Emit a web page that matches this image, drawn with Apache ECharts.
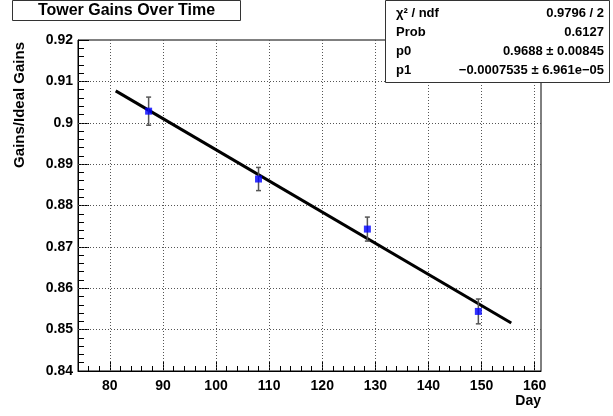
<!DOCTYPE html>
<html>
<head>
<meta charset="utf-8">
<script src="https://cdn.jsdelivr.net/npm/echarts@6/dist/echarts.min.js"></script>
<style>
html,body{margin:0;padding:0;background:#fff;}
#c{width:613px;height:416px;}
</style>
</head>
<body>
<div id="c"></div>
<script>
// ---- data ----
var days = [87.3, 108.0, 128.5, 149.4];
var gains = [0.9028, 0.8864, 0.8743, 0.8544];
var gainErrors = [0.0034, 0.0028, 0.0029, 0.0030];
var fitDays = [81.1, 155.6];
var fitGains = [0.9077, 0.8516];
var xMajorTicks = [80, 90, 100, 110, 120, 130, 140, 150, 160];
var xMinorTicks = [76, 78, 82, 84, 86, 88, 92, 94, 96, 98, 102, 104, 106, 108, 112, 114, 116, 118, 122, 124, 126, 128, 132, 134, 136, 138, 142, 144, 146, 148, 152, 154, 156, 158];
var yMajorTicks = [0.84, 0.85, 0.86, 0.87, 0.88, 0.89, 0.90, 0.91, 0.92];
var yMinorTicks = [0.842, 0.844, 0.846, 0.848, 0.852, 0.854, 0.856, 0.858, 0.862, 0.864, 0.866, 0.868, 0.872, 0.874, 0.876, 0.878, 0.882, 0.884, 0.886, 0.888, 0.892, 0.894, 0.896, 0.898, 0.902, 0.904, 0.906, 0.908, 0.912, 0.914, 0.916, 0.918];
var statsRows = [
  ["\u03c7\u00b2 / ndf", "0.9796 / 2"],
  ["Prob", "0.6127"],
  ["p0", "0.9688 \u00b1 0.00845"],
  ["p1", "\u22120.0007535 \u00b1 6.961e\u221205"]
];
var titleText = "Tower Gains Over Time";
var xTitle = "Day";
var yTitle = "Gains/Ideal Gains";

// ---- chart ----
var FONT = "'Liberation Sans', Arial, Helvetica, sans-serif";
var chart = echarts.init(document.getElementById('c'), null, {renderer: 'canvas'});
var G = {left: 78, right: 72, top: 40, bottom: 45};
var X0 = 74, X1 = 161.2, Y0 = 0.84, Y1 = 0.92;

function fmtY(v){ return String(+(+v).toFixed(3)); }

var pointData = days.map(function(d, i){ return [d, gains[i]]; });
var errData = days.map(function(d, i){ return [d, gains[i] - gainErrors[i], gains[i] + gainErrors[i]]; });
var fitData = fitDays.map(function(d, i){ return [d, fitGains[i]]; });

var gridLines = [];
xMajorTicks.forEach(function(v){ if (v > X0 && v < X1) gridLines.push({xAxis: v}); });
yMajorTicks.forEach(function(v){ if (v > Y0 && v < Y1) gridLines.push({yAxis: v}); });

var statsGraphics = [];
var SB = {x: 385, y: 0, w: 224, h: 82};
statsGraphics.push({type: 'rect', shape: {x: SB.x + 0.5, y: SB.y + 0.5, width: SB.w, height: SB.h},
  style: {fill: '#fff', stroke: '#333', lineWidth: 1}, z: 100});
var rowY = [13, 32, 51, 70];
statsRows.forEach(function(r, i){
  statsGraphics.push({type: 'text', x: 396, y: rowY[i], z: 101,
    style: {text: r[0], font: 'bold 13px ' + FONT, fill: '#000', textAlign: 'left', textVerticalAlign: 'middle'}});
  statsGraphics.push({type: 'text', x: 604, y: rowY[i], z: 101,
    style: {text: r[1], font: 'bold 13px ' + FONT, fill: '#000', textAlign: 'right', textVerticalAlign: 'middle'}});
});

var option = {
  animation: false,
  backgroundColor: '#fff',
  grid: {left: G.left, right: G.right, top: G.top, bottom: G.bottom, show: true, borderColor: '#000', borderWidth: 1,
    backgroundColor: 'transparent', containLabel: false, outerBoundsMode: 'none'},
  xAxis: [{
    type: 'value', min: X0, max: X1, position: 'bottom',
    axisLine: {show: true, onZero: false, lineStyle: {color: '#000', width: 1}},
    axisTick: {show: true, inside: true, length: 10, customValues: xMajorTicks, lineStyle: {color: '#000'}},
    axisLabel: {show: true, customValues: xMajorTicks, margin: 8, color: '#000', fontFamily: FONT, fontWeight: 'bold', fontSize: 14,
      formatter: function(v){ return String(v); }},
    splitLine: {show: false},
    name: xTitle, nameLocation: 'end', nameGap: 0,
    nameTextStyle: {color: '#000', fontFamily: FONT, fontWeight: 'bold', fontSize: 14, align: 'right', verticalAlign: 'top', padding: [23, 0, 0, 0]}
  }, {
    type: 'value', min: X0, max: X1, position: 'bottom',
    axisLine: {show: false},
    axisTick: {show: true, inside: true, length: 5, customValues: xMinorTicks, lineStyle: {color: '#000'}},
    axisLabel: {show: false},
    splitLine: {show: false}
  }],
  yAxis: [{
    type: 'value', min: Y0, max: Y1, position: 'left',
    axisLine: {show: true, onZero: false, lineStyle: {color: '#000', width: 1}},
    axisTick: {show: true, inside: true, length: 11, customValues: yMajorTicks, lineStyle: {color: '#000'}},
    axisLabel: {show: true, customValues: yMajorTicks, margin: 5, color: '#000', fontFamily: FONT, fontWeight: 'bold', fontSize: 14,
      formatter: fmtY},
    splitLine: {show: false}
  }, {
    type: 'value', min: Y0, max: Y1, position: 'left',
    axisLine: {show: false},
    axisTick: {show: true, inside: true, length: 6, customValues: yMinorTicks, lineStyle: {color: '#000'}},
    axisLabel: {show: false},
    splitLine: {show: false}
  }],
  graphic: [
    {type: 'rect', shape: {x: 12.5, y: 0.5, width: 228, height: 20}, style: {fill: '#fff', stroke: '#333', lineWidth: 1}, z: 100},
    {type: 'text', x: 126.5, y: 11, z: 101, style: {text: titleText, font: 'bold 16px ' + FONT, fill: '#000', textAlign: 'center', textVerticalAlign: 'middle'}},
    {type: 'text', x: 20, y: 42, rotation: Math.PI / 2, z: 101, style: {text: yTitle, font: 'bold 15px ' + FONT, fill: '#000', textAlign: 'right', textVerticalAlign: 'middle'}}
  ].concat(statsGraphics),
  series: [
    {
      type: 'line', xAxisIndex: 0, yAxisIndex: 0, data: [], silent: true,
      markLine: {silent: true, symbol: 'none', label: {show: false},
        lineStyle: {color: '#555', type: [1, 2], width: 1}, data: gridLines}
    },
    {
      type: 'line', xAxisIndex: 0, yAxisIndex: 0, data: fitData, showSymbol: false, symbol: 'none',
      lineStyle: {color: '#000', width: 3}, z: 5
    },
    {
      type: 'custom', xAxisIndex: 0, yAxisIndex: 0, data: errData, z: 6,
      renderItem: function(params, api){
        var x = api.value(0);
        var lo = api.coord([x, api.value(1)]);
        var hi = api.coord([x, api.value(2)]);
        var cap = 2.5;
        var st = {stroke: '#555', lineWidth: 1.5};
        return {type: 'group', children: [
          {type: 'line', shape: {x1: lo[0], y1: lo[1], x2: hi[0], y2: hi[1]}, style: st},
          {type: 'line', shape: {x1: lo[0] - cap, y1: lo[1], x2: lo[0] + cap, y2: lo[1]}, style: st},
          {type: 'line', shape: {x1: hi[0] - cap, y1: hi[1], x2: hi[0] + cap, y2: hi[1]}, style: st}
        ]};
      }
    },
    {
      type: 'scatter', xAxisIndex: 0, yAxisIndex: 0, data: pointData, symbol: 'rect', symbolSize: 7,
      itemStyle: {color: '#0000ff'}, z: 7
    }
  ]
};
chart.setOption(option);
</script>
</body>
</html>
